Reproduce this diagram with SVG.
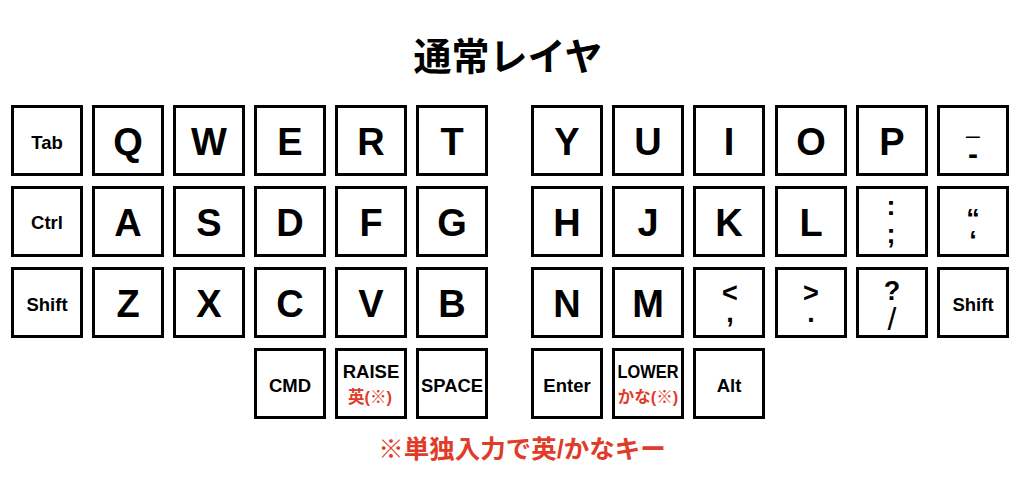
<svg xmlns="http://www.w3.org/2000/svg" width="1020" height="500" viewBox="0 0 1020 500">
<style>
.k{fill:#fff;stroke:#000;stroke-width:3}
text{font-family:"Liberation Sans","Noto Sans CJK JP",sans-serif;fill:#000;text-anchor:middle;font-weight:bold}
.big{font-size:38px}
.lbl{font-size:18.5px}
.sym{font-size:27px}
.red{fill:#e03c2a;font-family:"Liberation Sans","Noto Sans CJK JP",sans-serif}
.sub{font-size:16.5px}
.title{font-family:"Noto Sans CJK JP",sans-serif;font-size:38px}
</style>
<rect width="1020" height="500" fill="#fff"/>
<text class="title" x="508" y="70">通常レイヤ</text>

<g id="key-tab"><rect class="k" x="12.5" y="106.5" width="69" height="68"/><text class="lbl" x="47" y="149">Tab</text></g>
<g id="key-q"><rect class="k" x="93.5" y="106.5" width="69" height="68"/><text class="big" x="128" y="155">Q</text></g>
<g id="key-w"><rect class="k" x="174.5" y="106.5" width="69" height="68"/><text class="big" x="209" y="155">W</text></g>
<g id="key-e"><rect class="k" x="255.5" y="106.5" width="69" height="68"/><text class="big" x="290" y="155">E</text></g>
<g id="key-r"><rect class="k" x="336.5" y="106.5" width="69" height="68"/><text class="big" x="371" y="155">R</text></g>
<g id="key-t"><rect class="k" x="417.5" y="106.5" width="69" height="68"/><text class="big" x="452" y="155">T</text></g>
<g id="key-y"><rect class="k" x="532.5" y="106.5" width="69" height="68"/><text class="big" x="567" y="155">Y</text></g>
<g id="key-u"><rect class="k" x="613.5" y="106.5" width="69" height="68"/><text class="big" x="648" y="155">U</text></g>
<g id="key-i"><rect class="k" x="694.5" y="106.5" width="69" height="68"/><text class="big" x="729" y="155">I</text></g>
<g id="key-o"><rect class="k" x="776.5" y="106.5" width="69" height="68"/><text class="big" x="811" y="155">O</text></g>
<g id="key-p"><rect class="k" x="857.5" y="106.5" width="69" height="68"/><text class="big" x="892" y="155">P</text></g>
<g id="key-minus"><rect class="k" x="938.5" y="106.5" width="69" height="68"/><text x="973" y="133" style="font-size:24px;font-weight:normal">_</text><text x="973" y="164" style="font-size:30px">-</text></g>

<g id="key-ctrl"><rect class="k" x="12.5" y="187.5" width="69" height="68"/><text class="lbl" x="47" y="229">Ctrl</text></g>
<g id="key-a"><rect class="k" x="93.5" y="187.5" width="69" height="68"/><text class="big" x="128" y="236">A</text></g>
<g id="key-s"><rect class="k" x="174.5" y="187.5" width="69" height="68"/><text class="big" x="209" y="236">S</text></g>
<g id="key-d"><rect class="k" x="255.5" y="187.5" width="69" height="68"/><text class="big" x="290" y="236">D</text></g>
<g id="key-f"><rect class="k" x="336.5" y="187.5" width="69" height="68"/><text class="big" x="371" y="236">F</text></g>
<g id="key-g"><rect class="k" x="417.5" y="187.5" width="69" height="68"/><text class="big" x="452" y="236">G</text></g>
<g id="key-h"><rect class="k" x="532.5" y="187.5" width="69" height="68"/><text class="big" x="567" y="236">H</text></g>
<g id="key-j"><rect class="k" x="613.5" y="187.5" width="69" height="68"/><text class="big" x="648" y="236">J</text></g>
<g id="key-k"><rect class="k" x="694.5" y="187.5" width="69" height="68"/><text class="big" x="729" y="236">K</text></g>
<g id="key-l"><rect class="k" x="776.5" y="187.5" width="69" height="68"/><text class="big" x="811" y="236">L</text></g>
<g id="key-semicolon"><rect class="k" x="857.5" y="187.5" width="69" height="68"/><text class="sym" x="891" y="215">:</text><text class="sym" x="891" y="243">;</text></g>
<g id="key-quote"><rect class="k" x="938.5" y="187.5" width="69" height="68"/><text class="sym" x="973" y="228">“</text><text class="sym" x="973" y="250">‘</text></g>

<g id="key-shift-l"><rect class="k" x="12.5" y="268.5" width="69" height="68"/><text class="lbl" x="47" y="310.5">Shift</text></g>
<g id="key-z"><rect class="k" x="93.5" y="268.5" width="69" height="68"/><text class="big" x="128" y="317">Z</text></g>
<g id="key-x"><rect class="k" x="174.5" y="268.5" width="69" height="68"/><text class="big" x="209" y="317">X</text></g>
<g id="key-c"><rect class="k" x="255.5" y="268.5" width="69" height="68"/><text class="big" x="290" y="317">C</text></g>
<g id="key-v"><rect class="k" x="336.5" y="268.5" width="69" height="68"/><text class="big" x="371" y="317">V</text></g>
<g id="key-b"><rect class="k" x="417.5" y="268.5" width="69" height="68"/><text class="big" x="452" y="317">B</text></g>
<g id="key-n"><rect class="k" x="532.5" y="268.5" width="69" height="68"/><text class="big" x="567" y="317">N</text></g>
<g id="key-m"><rect class="k" x="613.5" y="268.5" width="69" height="68"/><text class="big" x="648" y="317">M</text></g>
<g id="key-comma"><rect class="k" x="694.5" y="268.5" width="69" height="68"/><text class="sym" x="730" y="302">&lt;</text><text class="sym" x="730" y="322">,</text></g>
<g id="key-period"><rect class="k" x="776.5" y="268.5" width="69" height="68"/><text class="sym" x="811" y="302">&gt;</text><text class="sym" x="811" y="322">.</text></g>
<g id="key-slash"><rect class="k" x="857.5" y="268.5" width="69" height="68"/><text class="sym" x="892" y="299.5">?</text><text x="892" y="330" style="font-size:32px;font-weight:normal">/</text></g>
<g id="key-shift-r"><rect class="k" x="938.5" y="268.5" width="69" height="68"/><text class="lbl" x="973" y="310.5">Shift</text></g>

<g id="key-cmd"><rect class="k" x="255.5" y="349.5" width="69" height="68"/><text class="lbl" x="290" y="391.5">CMD</text></g>
<g id="key-raise"><rect class="k" x="336.5" y="349.5" width="69" height="68"/><text class="lbl" x="371" y="378">RAISE</text><text class="red sub" x="370" y="402.5">英(※)</text></g>
<g id="key-space"><rect class="k" x="417.5" y="349.5" width="69" height="68"/><text class="lbl" x="452" y="391.5" textLength="62" lengthAdjust="spacingAndGlyphs">SPACE</text></g>
<g id="key-enter"><rect class="k" x="532.5" y="349.5" width="69" height="68"/><text class="lbl" x="567" y="391.5">Enter</text></g>
<g id="key-lower"><rect class="k" x="613.5" y="349.5" width="69" height="68"/><text class="lbl" x="648" y="378" textLength="61" lengthAdjust="spacingAndGlyphs">LOWER</text><text class="red sub" x="648" y="402.5">かな(※)</text></g>
<g id="key-alt"><rect class="k" x="694.5" y="349.5" width="69" height="68"/><text class="lbl" x="729" y="391.5">Alt</text></g>

<g id="connectors"></g>
<text class="red" x="522" y="458" style="font-size:25.5px">※単独入力で英/かなキー</text>
</svg>
